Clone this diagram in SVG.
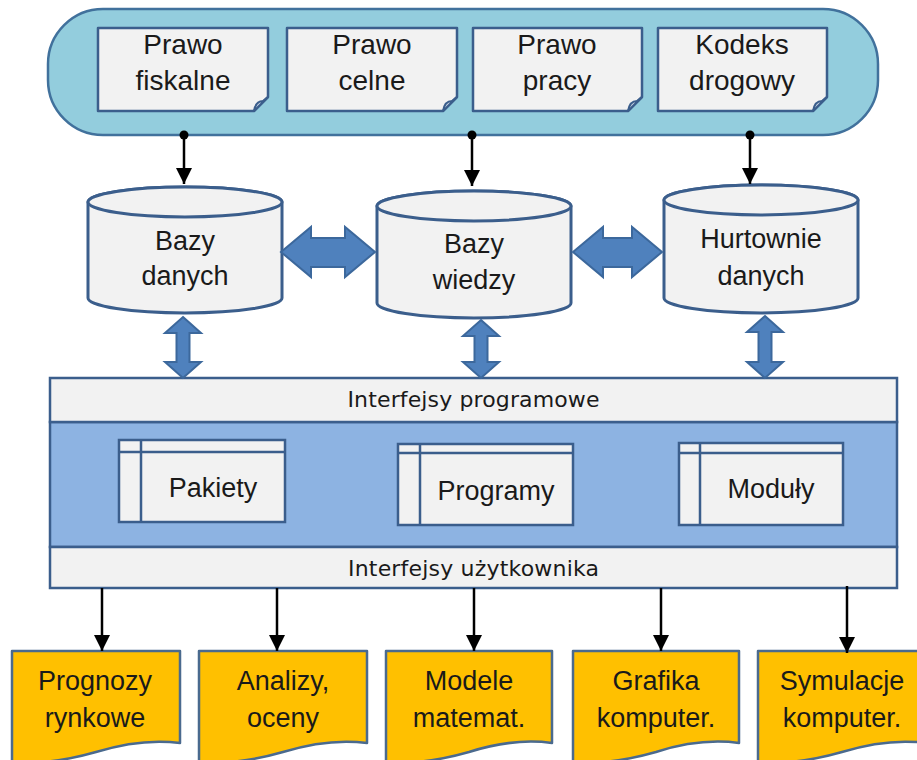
<svg xmlns="http://www.w3.org/2000/svg" width="917" height="760" viewBox="0 0 917 760">
  <defs>
    <style>
      .lbl { font-family: "Liberation Sans", Arial, sans-serif; fill: #1a1a1a; text-anchor: middle; }
      .ifc { font-family: "DejaVu Sans", "Liberation Sans", sans-serif; fill: #1a1a1a; text-anchor: middle; font-size: 22px; }
      .doc { fill: #F2F2F2; stroke: #3B5E8C; stroke-width: 2.5; stroke-linejoin: round; }
      .fold { fill: #C6D2E2; stroke: #3B5E8C; stroke-width: 2; stroke-linejoin: round; }
      .cyl { fill: #F2F2F2; stroke: #3B5E8C; stroke-width: 3; }
      .blk { fill: #4F81BD; stroke: #3C689C; stroke-width: 2; stroke-linejoin: miter; }
      .band { fill: #F2F2F2; stroke: #3B5E8C; stroke-width: 2.5; }
      .core { fill: #8DB3E2; stroke: #3B5E8C; stroke-width: 2.5; }
      .prog { fill: #F2F2F2; stroke: #3B5E8C; stroke-width: 2.5; }
      .out { fill: #FFC000; stroke: #4A6A8E; stroke-width: 2.5; stroke-linejoin: round; }
      .link { stroke: #000; stroke-width: 2.5; fill: none; }
    </style>
    <marker id="tip" viewBox="0 0 16 16" refX="16" refY="8" markerWidth="16" markerHeight="16" markerUnits="userSpaceOnUse" orient="auto">
      <path d="M0,0 L16,8 L0,16 Z" fill="#000"/>
    </marker>
  </defs>

  <!-- source container -->
  <g id="sources">
    <rect x="48" y="9" width="830" height="126" rx="55" ry="55" fill="#93CDDD" stroke="#41719C" stroke-width="2.5"/>
  </g>

  <g id="prawo-fiskalne">
    <path class="doc" d="M98,28 H268 V97 L254,111 H98 Z"/>
    <path class="fold" d="M254,111 C255,105 258,101 263,101 L268,97 Z"/>
    <text class="lbl" x="183" y="54" font-size="28">Prawo</text>
    <text class="lbl" x="183" y="90" font-size="28">fiskalne</text>
  </g>
  <g id="prawo-celne">
    <path class="doc" d="M287,28 H457 V97 L443,111 H287 Z"/>
    <path class="fold" d="M443,111 C444,105 447,101 452,101 L457,97 Z"/>
    <text class="lbl" x="372" y="54" font-size="28">Prawo</text>
    <text class="lbl" x="372" y="90" font-size="28">celne</text>
  </g>
  <g id="prawo-pracy">
    <path class="doc" d="M473,28 H642 V97 L628,111 H473 Z"/>
    <path class="fold" d="M628,111 C629,105 632,101 637,101 L642,97 Z"/>
    <text class="lbl" x="557" y="54" font-size="28">Prawo</text>
    <text class="lbl" x="557" y="90" font-size="28">pracy</text>
  </g>
  <g id="kodeks-drogowy">
    <path class="doc" d="M658,28 H827 V97 L813,111 H658 Z"/>
    <path class="fold" d="M813,111 C814,105 817,101 822,101 L827,97 Z"/>
    <text class="lbl" x="742" y="54" font-size="28">Kodeks</text>
    <text class="lbl" x="742" y="90" font-size="28">drogowy</text>
  </g>

  <!-- data stores -->
  <g id="bazy-danych">
    <path class="cyl" d="M88,202 A97,15 0 0 1 282,202 V298 A97,15 0 0 1 88,298 Z"/>
    <ellipse class="cyl" cx="185" cy="202" rx="97" ry="15"/>
    <text class="lbl" x="185" y="250" font-size="27">Bazy</text>
    <text class="lbl" x="185" y="285" font-size="27">danych</text>
  </g>
  <g id="bazy-wiedzy">
    <path class="cyl" d="M377,206 A97,15 0 0 1 571,206 V303 A97,15 0 0 1 377,303 Z"/>
    <ellipse class="cyl" cx="474" cy="206" rx="97" ry="15"/>
    <text class="lbl" x="474" y="253" font-size="27">Bazy</text>
    <text class="lbl" x="474" y="289" font-size="27">wiedzy</text>
  </g>
  <g id="hurtownie-danych">
    <path class="cyl" d="M664,200 A97,15 0 0 1 858,200 V298 A97,15 0 0 1 664,298 Z"/>
    <ellipse class="cyl" cx="761" cy="200" rx="97" ry="15"/>
    <text class="lbl" x="761" y="248" font-size="27">Hurtownie</text>
    <text class="lbl" x="761" y="285" font-size="27">danych</text>
  </g>

  <!-- software layer -->
  <g id="warstwa-programowa">
    <rect class="core" x="50" y="422" width="847" height="125"/>
    <rect class="band" x="50" y="378" width="847" height="44"/>
    <rect class="band" x="50" y="547" width="847" height="41"/>
    <text class="ifc" x="473.5" y="407" textLength="252" lengthAdjust="spacing">Interfejsy programowe</text>
    <text class="ifc" x="473.5" y="576" textLength="251" lengthAdjust="spacing">Interfejsy użytkownika</text>
  </g>
  <g id="pakiety">
    <rect class="prog" x="119" y="440" width="166" height="82"/>
    <path class="prog" d="M119,452 H285 M141,440 V522"/>
    <text class="lbl" x="213" y="497" font-size="27">Pakiety</text>
  </g>
  <g id="programy">
    <rect class="prog" x="398" y="444" width="175" height="81"/>
    <path class="prog" d="M398,453 H573 M420,444 V525"/>
    <text class="lbl" x="496" y="500" font-size="27">Programy</text>
  </g>
  <g id="moduly">
    <rect class="prog" x="679" y="443" width="164" height="82"/>
    <path class="prog" d="M679,453 H843 M700,443 V525"/>
    <text class="lbl" x="771" y="498" font-size="27">Moduły</text>
  </g>

  <!-- outputs -->
  <g id="prognozy">
    <path class="out" d="M12,651 H180 V743 C150,739 122,744 96,752 C68,760 40,765 12,761 Z"/>
    <text class="lbl" x="95" y="690" font-size="27">Prognozy</text>
    <text class="lbl" x="95" y="727" font-size="27">rynkowe</text>
  </g>
  <g id="analizy">
    <path class="out" d="M199,651 H367 V743 C337,739 309,744 283,752 C255,760 227,765 199,761 Z"/>
    <text class="lbl" x="283" y="690" font-size="27">Analizy,</text>
    <text class="lbl" x="283" y="727" font-size="27">oceny</text>
  </g>
  <g id="modele">
    <path class="out" d="M386,651 H552 V743 C522,739 494,744 469,752 C441,760 414,765 386,761 Z"/>
    <text class="lbl" x="469" y="690" font-size="27">Modele</text>
    <text class="lbl" x="469" y="727" font-size="27">matemat.</text>
  </g>
  <g id="grafika">
    <path class="out" d="M573,651 H739 V743 C709,739 681,744 656,752 C628,760 601,765 573,761 Z"/>
    <text class="lbl" x="656" y="690" font-size="27">Grafika</text>
    <text class="lbl" x="656" y="727" font-size="27">komputer.</text>
  </g>
  <g id="symulacje">
    <path class="out" d="M758,651 H926 V743 C896,739 868,744 842,752 C814,760 786,765 758,761 Z"/>
    <text class="lbl" x="842" y="690" font-size="27">Symulacje</text>
    <text class="lbl" x="842" y="727" font-size="27">komputer.</text>
  </g>

  <!-- connectors -->
  <g id="connectors">
    <line class="link" x1="184" y1="135" x2="184" y2="184" marker-end="url(#tip)"/>
    <line class="link" x1="472" y1="135" x2="472" y2="186" marker-end="url(#tip)"/>
    <line class="link" x1="750" y1="135" x2="750" y2="184" marker-end="url(#tip)"/>
    <circle cx="184" cy="135" r="4.5" fill="#000"/>
    <circle cx="472" cy="135" r="4.5" fill="#000"/>
    <circle cx="750" cy="135" r="4.5" fill="#000"/>

    <path class="blk" d="M281,252 L311,227 L311,238 L345,238 L345,227 L375,252 L345,277 L345,267 L311,267 L311,277 Z"/>
    <path class="blk" d="M573,252 L603,227 L603,238 L632,238 L632,227 L662,252 L632,277 L632,267 L603,267 L603,277 Z"/>

    <path class="blk" d="M183,317 L201,333 L189.5,333 L189.5,362 L201,362 L183,378 L165,362 L176.5,362 L176.5,333 L165,333 Z"/>
    <path class="blk" d="M481,320 L499,336 L487.5,336 L487.5,362 L499,362 L481,378 L463,362 L474.5,362 L474.5,336 L463,336 Z"/>
    <path class="blk" d="M765,316 L783,332 L771.5,332 L771.5,362 L783,362 L765,378 L747,362 L758.5,362 L758.5,332 L747,332 Z"/>

    <line class="link" x1="102" y1="588" x2="102" y2="651" marker-end="url(#tip)"/>
    <line class="link" x1="277" y1="588" x2="277" y2="651" marker-end="url(#tip)"/>
    <line class="link" x1="474" y1="588" x2="474" y2="651" marker-end="url(#tip)"/>
    <line class="link" x1="661" y1="588" x2="661" y2="651" marker-end="url(#tip)"/>
    <line class="link" x1="847" y1="586" x2="847" y2="653" marker-end="url(#tip)"/>
  </g>
</svg>
